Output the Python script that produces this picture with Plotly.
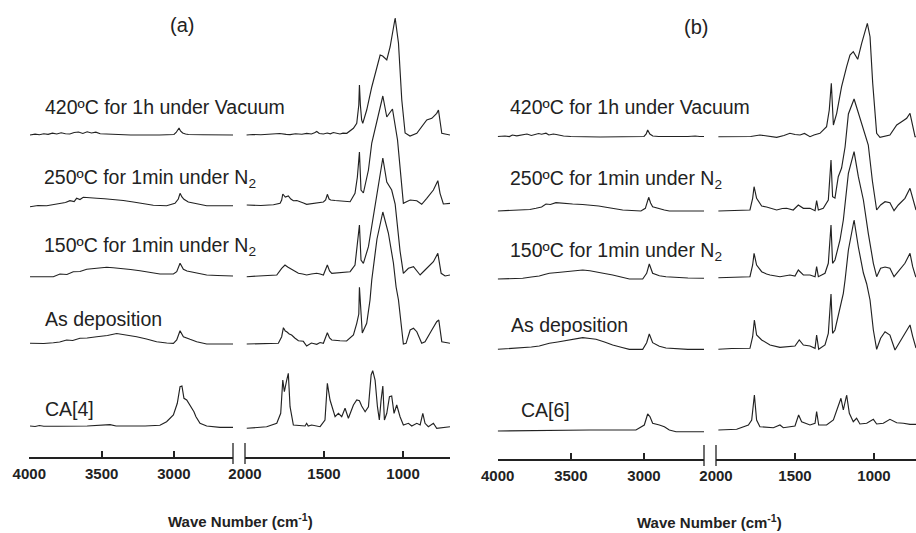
import plotly.graph_objects as go

# ---------------- data (wavenumber in cm-1, absorbance in a.u. above each trace's baseline) ----------------
labels_a = ["420ºC for 1h under Vacuum", "250ºC for 1min under N<sub>2</sub>",
            "150ºC for 1min under N<sub>2</sub>", "As deposition", "CA[4]"]
labels_b = ["420ºC for 1h under Vacuum", "250ºC for 1min under N<sub>2</sub>",
            "150ºC for 1min under N<sub>2</sub>", "As deposition", "CA[6]"]

left_ticks = [4000, 3500, 3000]
right_ticks = [2000, 1500, 1000]

# ---- panel (a) ----
a420_l_wn = [3995, 3960, 3930, 3900, 3870, 3840, 3810, 3780, 3750, 3720, 3690, 3660, 3630, 3600, 3570, 3540, 3510, 3480, 3450, 3300, 3100, 3000, 2985, 2975, 2965, 2955, 2940, 2920, 2900, 2800, 2700, 2592]
a420_l_ab = [0, 0.8, 0.3, 1.2, 0.6, 1.8, 1.0, 2.2, 1.3, 1.0, 2.5, 3.0, 1.5, 3.2, 2.0, 2.8, 1.2, 1.0, 0.3, 0, 0, 0.5, 2.5, 5, 7, 4, 2, 1, 0.5, 0.2, 0.3, 0]
a420_r_wn = [1990, 1950, 1900, 1850, 1820, 1780, 1740, 1715, 1680, 1640, 1610, 1580, 1560, 1546, 1530, 1504, 1480, 1460, 1441, 1420, 1399, 1380, 1356, 1314, 1293, 1280, 1276, 1270, 1262, 1255, 1230, 1198, 1166, 1145, 1129, 1103, 1082, 1050, 1029, 1008, 987, 956, 913, 882, 850, 818, 787, 776, 755, 734, 703]
a420_r_ab = [0, 0.5, 0.3, 1.0, 0.8, 1.5, 0.6, 0.4, 1.2, 0.8, 1.6, 1.0, 2.2, 3.5, 1.5, 1.0, 2.0, 1.2, 2.5, 1.5, 1.0, 1.8, 1.7, 6.7, 11.7, 30, 50, 30, 15, 11.7, 25, 48, 68, 80, 79, 75, 88, 117, 92, 35, 2, -1, 1.7, 8.3, 15, 16.7, 21.7, 25, 1.7, 1, 0]

a250_l_wn = [3995, 3940, 3880, 3830, 3788, 3750, 3719, 3690, 3673, 3650, 3627, 3580, 3534, 3480, 3419, 3350, 3281, 3210, 3143, 3051, 2993, 2970, 2958, 2945, 2931, 2901, 2870, 2843, 2774, 2700, 2592]
a250_l_ab = [-0.7, 0.5, 0.3, 1.5, 2, 3.5, 5.3, 4.5, 7.7, 6.5, 8.7, 8.5, 7.7, 7.2, 6.7, 5.5, 4, 2.2, 0.7, 0.3, 2.7, 7, 12.7, 9, 6.7, 4, 3, 2, 0.3, 0.3, 0.3]
a250_r_wn = [1989, 1900, 1820, 1778, 1768, 1761, 1745, 1726, 1710, 1694, 1672, 1652, 1630, 1610, 1580, 1546, 1525, 1504, 1490, 1479, 1468, 1458, 1430, 1399, 1370, 1335, 1304, 1289, 1276, 1266, 1251, 1219, 1198, 1160, 1128, 1103, 1067, 1035, 1015, 998, 975, 955, 913, 882, 850, 808, 780, 766, 745, 703]
a250_r_ab = [1, 0.5, 1.2, 2.7, 6, 12, 9, 10, 7, 5.3, 5.5, 4, 3, 1.7, 2.5, 2.7, 3.5, 4, 6, 11.7, 7, 6, 5.5, 5, 4.5, 4.3, 12.7, 29, 54, 16, 13, 36, 63, 88, 110, 89, 97, 66, 30, 2.7, 4.5, 6, 5.3, 1.7, 7.7, 16, 25.3, 12.7, 2, 2.7]

a150_l_wn = [3995, 3900, 3834, 3788, 3740, 3696, 3650, 3603, 3540, 3465, 3420, 3373, 3300, 3235, 3160, 3097, 3004, 2981, 2958, 2935, 2910, 2889, 2843, 2774, 2700, 2592]
a150_l_ab = [0.3, 0.5, 0.3, 3, 2.5, 5.3, 5.5, 7.7, 8.5, 9.7, 9.2, 8.7, 7.5, 6.3, 4.5, 3, 3, 5.3, 13.7, 7.7, 6, 5.3, 3.7, 2, 1.5, 1]
a150_r_wn = [1989, 1900, 1799, 1768, 1747, 1730, 1715, 1690, 1662, 1635, 1610, 1580, 1546, 1525, 1504, 1479, 1465, 1451, 1420, 1399, 1370, 1335, 1304, 1289, 1276, 1266, 1251, 1219, 1188, 1156, 1128, 1103, 1072, 1050, 1019, 998, 966, 934, 892, 861, 808, 780, 759, 734, 703]
a150_r_ab = [0.3, 0.8, 2, 8.7, 12, 10, 8.7, 6, 3.7, 3, 2, 3, 3.7, 3, 2, 12, 6, 3.7, 4, 4.3, 4.8, 5.3, 12, 33.7, 52, 17, 13.7, 30.3, 60.3, 95, 119, 95, 87, 73, 26, 3.7, 8.7, 10.3, 2, 7, 15.3, 23.7, 3.7, 1, 2]

a_dep_l_wn = [3995, 3900, 3834, 3790, 3742, 3700, 3650, 3600, 3534, 3460, 3396, 3330, 3258, 3190, 3120, 3050, 3004, 2981, 2958, 2935, 2910, 2889, 2843, 2774, 2700, 2592]
a_dep_l_ab = [0.7, 0.5, 1.3, 2, 4, 3.5, 5.7, 6, 7.3, 8.5, 10.5, 9, 7.3, 5, 2.3, 1, 0.7, 4, 13.3, 7.3, 5.5, 4.7, 2.3, 0, 0, 0]
a_dep_r_wn = [1989, 1900, 1789, 1768, 1757, 1745, 1736, 1720, 1705, 1685, 1662, 1631, 1610, 1580, 1546, 1525, 1504, 1479, 1465, 1451, 1425, 1399, 1357, 1314, 1293, 1280, 1276, 1268, 1258, 1230, 1209, 1198, 1165, 1128, 1093, 1061, 1044, 1029, 1008, 998, 981, 955, 934, 913, 882, 861, 818, 787, 774, 755, 703]
a_dep_r_ab = [0, 0.5, 0.7, 7.3, 16.3, 13, 12.3, 10, 9, 6, 3.3, 2.7, -2, 1, -0.3, 1.5, 0.7, 11.3, 6, 4, 3.5, 3.3, 3, 9, 20.7, 30, 56.7, 30, 11, 20.7, 44, 64, 105, 132, 111, 81, 57, 44, 14, 0, 0.7, 14, 15.7, 12.3, 0.7, 2.3, 14, 22.3, 24, 2.3, 0.7]

a_ca_l_wn = [3995, 3960, 3930, 3900, 3800, 3600, 3442, 3400, 3200, 3097, 3051, 3004, 2977, 2958, 2945, 2931, 2912, 2894, 2878, 2862, 2848, 2820, 2774, 2682, 2592]
a_ca_l_ab = [1, 0.5, 1.5, 0.8, 0.8, 1, 2.3, 1, 1, 1.7, 5.3, 12, 23.7, 40.3, 41, 28.7, 27, 23, 18.7, 15.3, 10.3, 3.7, 1, -0.3, -0.3]
a_ca_r_wn = [1989, 1863, 1799, 1774, 1761, 1751, 1736, 1726, 1715, 1694, 1620, 1610, 1600, 1578, 1525, 1494, 1479, 1462, 1430, 1409, 1388, 1367, 1346, 1314, 1293, 1276, 1262, 1240, 1219, 1202, 1192, 1177, 1162, 1150, 1139, 1128, 1118, 1103, 1086, 1072, 1057, 1040, 1019, 998, 966, 945, 913, 892, 875, 861, 840, 808, 787, 703]
a_ca_r_ab = [-1.3, 0.3, 3.7, 13.7, 47, 35.3, 47, 53.7, 20.3, 2, 1, 3.7, 1, 2, 0.3, 7, 43.7, 27, 10.3, 13.7, 10.3, 18.7, 8.7, 22, 27, 26.3, 21, 15.3, 20.3, 52, 56.3, 47, 20.3, 7, 27, 41, 7, 13.7, 30.3, 31, 13.7, 22, 10.3, 2, 3.7, 1, 3.7, 2, 13.7, 3.7, 0.3, 3.7, -1.3, 0.3]

# ---- panel (b) ----
b420_l_wn = [4000, 3950, 3920, 3900, 3870, 3850, 3820, 3800, 3770, 3750, 3720, 3700, 3670, 3650, 3620, 3600, 3570, 3550, 3500, 3300, 3000, 2985, 2975, 2960, 2940, 2900, 2700, 2650, 2620, 2590]
b420_l_ab = [0.5, 1, 0.4, 2, 1.2, 1.5, 2.5, 3, 1.5, 2, 3.5, 2.8, 3.8, 2, 3, 2.5, 1.2, 1, 0.5, 0, 0.5, 3, 7, 3, 1, 0.5, 0.5, 1, 0.5, 0.5]
b420_r_wn = [1985, 1900, 1827, 1780, 1722, 1680, 1616, 1570, 1532, 1500, 1468, 1440, 1405, 1380, 1342, 1300, 1283, 1270, 1257, 1236, 1205, 1173, 1152, 1131, 1103, 1078, 1042, 1025, 1008, 983, 962, 899, 856, 825, 793, 772, 755, 740, 734]
b420_r_ab = [0.3, 0.5, 1, 0.5, 2, 1.2, -0.3, 1.5, 3.7, 2.5, 2, 3.5, 0.3, 2, 3.7, 10.3, 27, 53.7, 12, 23.7, 50.3, 70.3, 82, 85.3, 77.7, 93.7, 113.7, 100.3, 53.7, 3.7, -0.3, 2, 12, 15.3, 18.7, 23.7, 10.3, 0.3, 0.3]

b250_l_wn = [4000, 3900, 3829, 3780, 3738, 3700, 3670, 3640, 3602, 3550, 3488, 3420, 3374, 3310, 3260, 3200, 3146, 3021, 2991, 2968, 2955, 2941, 2907, 2861, 2827, 2700, 2590]
b250_l_ab = [0, 0.5, 1, 1.5, 2.7, 4, 7, 6.5, 8.3, 7.5, 7, 6.5, 6, 5, 3.7, 2, 1, 0, 2.7, 13.7, 8, 4.3, 2.7, 1, 0, 0, 0]
b250_r_wn = [1985, 1900, 1785, 1768, 1759, 1743, 1711, 1680, 1658, 1616, 1580, 1553, 1511, 1479, 1447, 1405, 1373, 1363, 1352, 1321, 1289, 1272, 1262, 1247, 1226, 1205, 1183, 1162, 1126, 1099, 1067, 1036, 1010, 983, 958, 930, 899, 873, 846, 804, 772, 755, 736, 734]
b250_r_ab = [0, 0.5, 1, 12.7, 24.3, 12.7, 5, 4, 2.7, 1, 2.5, 2.7, 1, 6, 2.7, 2.7, 0.3, 10.3, 1, 2.7, 11, 51, 14.3, 13, 34.3, 43, 64, 97, 112, 98, 83, 66, 30, 1, 6, 9.3, 8.3, 0.3, 6, 12.7, 22.7, 12.7, 1, 1]

b150_l_wn = [4000, 3900, 3829, 3770, 3716, 3680, 3647, 3590, 3533, 3470, 3419, 3370, 3328, 3270, 3214, 3150, 3100, 3009, 2982, 2964, 2941, 2895, 2850, 2700, 2590]
b150_l_ab = [-1, -0.5, -0.3, 1, 2, 3.5, 4.7, 5.5, 6.3, 7.5, 8, 7.2, 6.3, 4.5, 3, 1, -1, -1, 4.7, 14, 4.7, 2.3, 1.3, 0, -0.3]
b150_r_wn = [1985, 1900, 1785, 1768, 1759, 1743, 1711, 1680, 1658, 1595, 1532, 1500, 1479, 1447, 1405, 1373, 1363, 1352, 1310, 1289, 1272, 1262, 1247, 1215, 1194, 1162, 1126, 1099, 1067, 1036, 1004, 983, 958, 930, 899, 873, 846, 804, 772, 755, 736, 734]
b150_r_ab = [0.3, 0.8, 1.3, 13, 24.7, 13, 6.3, 4, 3, 1.3, 3, 2, 8, 3, 3, 1.3, 11.3, 1.3, 4.7, 14.7, 53, 14.7, 18, 38, 58, 104.7, 126.3, 101.3, 78, 44.7, 14.7, 1.3, 9.7, 11, 9.7, 1.3, 6.3, 14.7, 24.7, 11.3, 1.3, 1.3]

b_dep_l_wn = [4000, 3900, 3829, 3770, 3716, 3680, 3647, 3590, 3533, 3470, 3419, 3370, 3328, 3270, 3214, 3150, 3100, 3009, 2982, 2964, 2941, 2895, 2850, 2700, 2590]
b_dep_l_ab = [-0.3, 0.5, 1.7, 2, 3, 4.5, 5.7, 7, 8.3, 10, 11.3, 10.5, 9.7, 7, 4, 1.5, -0.3, -0.3, 6.3, 15, 6.3, 2.7, 1, -0.3, -0.3]
b_dep_r_wn = [1985, 1900, 1785, 1768, 1757, 1743, 1711, 1680, 1658, 1595, 1532, 1500, 1473, 1447, 1405, 1373, 1363, 1350, 1310, 1289, 1272, 1262, 1247, 1215, 1194, 1183, 1162, 1126, 1099, 1067, 1046, 1025, 1004, 983, 958, 930, 899, 867, 835, 804, 772, 755, 736, 734]
b_dep_r_ab = [-0.3, 0.5, 0.7, 12.3, 29, 14, 9, 6, 4, 1.7, 2.3, 3, 9, 4, 3, 0.7, 14, -0.3, 4, 15.7, 55, 15.7, 19, 40.7, 55.7, 69, 99, 129, 102, 76, 65, 49, 19, -0.3, 10.7, 17.3, 14, -1, 7.3, 15.7, 24, 12.7, 1, 1]

b_ca_l_wn = [4000, 3800, 3647, 3500, 3374, 3200, 3055, 2998, 2975, 2959, 2941, 2895, 2861, 2827, 2781, 2590]
b_ca_l_ab = [0, 0.5, 1, 1, 1, 1, 1, 6, 17, 14.3, 7.7, 6, 4.3, 1, -0.7, -0.7]
b_ca_r_wn = [1985, 1869, 1795, 1774, 1757, 1743, 1722, 1637, 1595, 1574, 1500, 1477, 1458, 1405, 1373, 1363, 1350, 1300, 1257, 1226, 1209, 1194, 1173, 1156, 1131, 1110, 1089, 1046, 1004, 983, 941, 899, 856, 814, 772, 734]
b_ca_r_ab = [1, 1.7, 6, 11, 36, 11, 4.3, 3.3, 6, 3.3, 5, 16, 9.3, 6, 7.7, 19.3, 6, 6, 11, 26, 32.7, 21, 36, 17.7, 9.3, 12.7, 7, 7.7, 11.7, 7, 7.7, 11.7, 8.3, 7.7, 6.7, 6.7]

spectra_a = [(a420_l_wn, a420_l_ab, a420_r_wn, a420_r_ab),
             (a250_l_wn, a250_l_ab, a250_r_wn, a250_r_ab),
             (a150_l_wn, a150_l_ab, a150_r_wn, a150_r_ab),
             (a_dep_l_wn, a_dep_l_ab, a_dep_r_wn, a_dep_r_ab),
             (a_ca_l_wn, a_ca_l_ab, a_ca_r_wn, a_ca_r_ab)]
spectra_b = [(b420_l_wn, b420_l_ab, b420_r_wn, b420_r_ab),
             (b250_l_wn, b250_l_ab, b250_r_wn, b250_r_ab),
             (b150_l_wn, b150_l_ab, b150_r_wn, b150_r_ab),
             (b_dep_l_wn, b_dep_l_ab, b_dep_r_wn, b_dep_r_ab),
             (b_ca_l_wn, b_ca_l_ab, b_ca_r_wn, b_ca_r_ab)]

# ---------------- styling / layout ----------------
W, H = 916, 533
MB = 70
PH = H - MB  # plot-area height in px
INK = "#222222"
FONT = "Liberation Sans, Arial, sans-serif"

# vertical stacking offsets of each spectrum (layout, not data)
offsets_a = [322, 251, 180, 113, 30]
offsets_b = [322, 248, 181, 110, 28]

fig = go.Figure()
line = dict(color=INK, width=1.15)

def add_panel(spectra, offsets, xl, xr, ya):
    for (lw, la, rw, ra), off in zip(spectra, offsets):
        fig.add_trace(go.Scatter(x=lw, y=[v + off for v in la], xaxis=xl, yaxis=ya,
                                 mode="lines", line=line, hoverinfo="skip", showlegend=False))
        fig.add_trace(go.Scatter(x=rw, y=[v + off for v in ra], xaxis=xr, yaxis=ya,
                                 mode="lines", line=line, hoverinfo="skip", showlegend=False))

add_panel(spectra_a, offsets_a, "x", "x2", "y")
add_panel(spectra_b, offsets_b, "x3", "x4", "y2")

def xax(domain, rng, ticks, anchor):
    return dict(domain=domain, range=rng, anchor=anchor, tickmode="array", tickvals=ticks,
                ticktext=[str(t) for t in ticks], showgrid=False, zeroline=False, automargin=False,
                showline=True, linecolor=INK, linewidth=1.6, ticks="inside", ticklen=6,
                tickwidth=1.6, tickcolor=INK, ticklabelstandoff=2,
                tickfont=dict(family=FONT, size=15, color=INK, weight="bold"), fixedrange=True)

fig.update_layout(
    template="none",
    width=W, height=H, margin=dict(l=0, r=0, t=0, b=MB, pad=0, autoexpand=False),
    paper_bgcolor="white", plot_bgcolor="white",
    xaxis=xax([29.3 / W, 233 / W], [4000, 2592], left_ticks, "y"),
    xaxis2=xax([245 / W, 450 / W], [2000, 703], right_ticks, "y"),
    xaxis3=xax([497.7 / W, 704 / W], [4000, 2590], left_ticks, "y2"),
    xaxis4=xax([716 / W, 1.0], [2000, 734], right_ticks, "y2"),
    yaxis=dict(domain=[6 / PH, 1], range=[0, 457], visible=False, anchor="x",
               automargin=False, fixedrange=True),
    yaxis2=dict(domain=[4 / PH, 1], range=[0, 459], visible=False, anchor="x3",
                automargin=False, fixedrange=True),
)

def py(px):  # pixel row -> paper y
    return (PH - px) / PH

# axis-break marks
shapes = []
for xref, xv, top, bot in [("x domain", 1, 443, 464), ("x2 domain", 0, 443, 464),
                           ("x3 domain", 1, 445, 466), ("x4 domain", 0, 445, 466)]:
    shapes.append(dict(type="line", xref=xref, yref="paper", x0=xv, x1=xv,
                       y0=py(top), y1=py(bot), line=dict(color=INK, width=1.3)))
fig.update_layout(shapes=shapes)

ann = []
# panel letters
ann.append(dict(text="(a)", x=182 / W, y=py(25), xref="paper", yref="paper", showarrow=False,
                xanchor="center", yanchor="middle", font=dict(family=FONT, size=20, color=INK)))
ann.append(dict(text="(b)", x=696 / W, y=py(27), xref="paper", yref="paper", showarrow=False,
                xanchor="center", yanchor="middle", font=dict(family=FONT, size=20, color=INK)))
# axis titles
for cx, cy in [(240, 520), (709, 521)]:
    ann.append(dict(text="Wave Number (cm<sup>-1</sup>)", x=cx / W, y=py(cy), xref="paper", yref="paper",
                    showarrow=False, xanchor="center", yanchor="middle",
                    font=dict(family=FONT, size=15, color=INK, weight="bold")))
# trace labels
lab_pos_a = [(43, 107), (42, 178), (42, 247), (43, 319), (43, 409)]
lab_pos_b = [(508, 107), (508, 179), (508, 251), (509, 325), (519, 410)]
for labels, pos in [(labels_a, lab_pos_a), (labels_b, lab_pos_b)]:
    for t, (lx, ly) in zip(labels, pos):
        ann.append(dict(text=t, x=lx / W, y=py(ly), xref="paper", yref="paper", showarrow=False,
                        xanchor="left", yanchor="middle",
                        font=dict(family=FONT, size=19.5, color=INK)))
fig.update_layout(annotations=ann)

fig.write_html("out.html")
